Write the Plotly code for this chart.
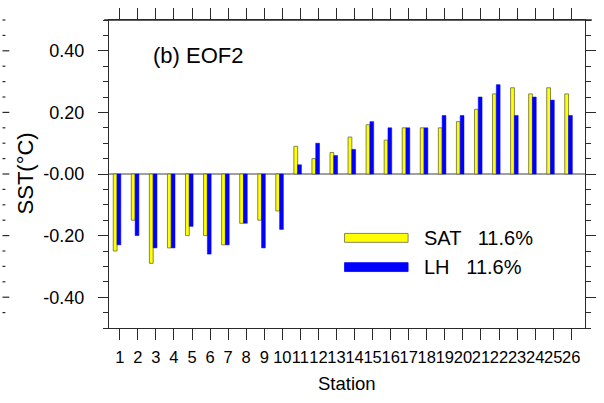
import plotly.graph_objects as go

# ---- data ----
stations = list(range(1, 27))
station_labels = [str(s) for s in stations]
sat = [-0.25, -0.15, -0.29, -0.24, -0.20, -0.20, -0.23, -0.16, -0.15, -0.12,
       0.09, 0.05, 0.07, 0.12, 0.16, 0.11, 0.15, 0.15, 0.15, 0.17,
       0.21, 0.26, 0.28, 0.26, 0.28, 0.26]
lh = [-0.23, -0.20, -0.24, -0.24, -0.17, -0.26, -0.23, -0.16, -0.24, -0.18,
      0.03, 0.10, 0.06, 0.08, 0.17, 0.15, 0.15, 0.15, 0.19, 0.19,
      0.25, 0.29, 0.19, 0.25, 0.24, 0.19]
series_names = ["SAT  11.6%", "LH  11.6%"]
ytick_vals = [-0.4, -0.2, 0.0, 0.2, 0.4]
ytick_text = ["-0.40", "-0.20", "-0.00", "0.20", "0.40"]

# ---- layout constants ----
W, H = 604, 403
ML, MR, MT, MB = 109, 8, 17, 75
PW, PH = W - ML - MR, H - MT - MB
YR = (-0.5, 0.5)
XR = (0.404, 26.76)
FONT = "Liberation Sans, Arial, Helvetica, sans-serif"
AX = "#2a2a2a"


def px(xp):
    return (xp - ML) / PW


def py(yp):
    return (H - MB - yp) / PH


fig = go.Figure()
fig.add_trace(go.Bar(x=stations, y=sat, name=series_names[0], width=0.21, offset=-0.36,
                     marker=dict(color="#ffff00", line=dict(color="#6b6b3a", width=0.8))))
fig.add_trace(go.Bar(x=stations, y=lh, name=series_names[1], width=0.21, offset=-0.15,
                     marker=dict(color="#0000ff", line=dict(color="#0000ff", width=0.5))))

shapes = []
# top border extension
shapes.append(dict(type="line", xref="paper", yref="paper", x0=px(104), x1=px(603),
                   y0=1, y1=1, line=dict(color=AX, width=1.3)))
# neighbouring panel's right-axis ticks at the far left edge
for k in range(-9, 11):
    v = k * 0.05
    major = (k % 4 == 0)
    yp = (v - YR[0]) / (YR[1] - YR[0])
    shapes.append(dict(type="line", xref="paper", yref="paper", x0=px(0), x1=px(7 if major else 3),
                       y0=yp, y1=yp, line=dict(color=AX, width=1.2)))

# legend (manual)
leg_rows = [(237, "#ffff00", "#6b6b3a"), (266.5, "#0000ff", "#0000ff")]
annotations = []
for (yc, fc, lc), name in zip(leg_rows, series_names):
    shapes.append(dict(type="rect", xref="paper", yref="paper", x0=px(350), x1=px(415),
                       y0=py(yc + 4.5), y1=py(yc - 4.5), fillcolor=fc, line=dict(color=lc, width=0.8)))
    annotations.append(dict(xref="paper", yref="paper", x=px(430), y=py(yc), xanchor="left", yanchor="middle",
                            text=name.replace("  ", " \u00a0\u00a0"), showarrow=False, borderpad=0,
                            font=dict(family=FONT, size=20, color="black")))

annotations.append(dict(xref="paper", yref="paper", x=px(153), y=py(53), xanchor="left", yanchor="middle",
                        text="(b) EOF2", showarrow=False, borderpad=0,
                        font=dict(family=FONT, size=22, color="black")))
annotations.append(dict(xref="paper", yref="paper", x=px(352), y=py(384), xanchor="center", yanchor="middle",
                        text="Station", showarrow=False, font=dict(family=FONT, size=18.5, color="black")))
annotations.append(dict(xref="paper", yref="paper", x=px(24), y=py(172), xanchor="center", yanchor="middle",
                        text="SST(°C)", textangle=-90, showarrow=False,
                        font=dict(family=FONT, size=22, color="black")))

fig.update_layout(
    width=W, height=H,
    margin=dict(l=ML, r=MR, t=MT, b=MB, pad=0),
    paper_bgcolor="white", plot_bgcolor="white",
    barmode="overlay", showlegend=False,
    shapes=shapes, annotations=annotations,
    font=dict(family=FONT, color="black"),
)
fig.update_xaxes(range=list(XR), tickmode="array", tickvals=stations, ticktext=station_labels,
                 tickangle=0, ticks="outside", ticklen=11, tickwidth=1.2, tickcolor=AX,
                 showline=True, linecolor=AX, linewidth=1.3, mirror="ticks",
                 showgrid=False, zeroline=False, ticklabelstandoff=3,
                 tickfont=dict(family=FONT, size=16.5, color="black"))
fig.update_yaxes(range=list(YR), tickmode="array", tickvals=ytick_vals, ticktext=ytick_text,
                 ticks="outside", ticklen=10, tickwidth=1.2, tickcolor=AX,
                 minor=dict(tickmode="linear", tick0=0, dtick=0.05, ticks="outside", ticklen=5,
                            tickwidth=1.2, tickcolor=AX, showgrid=False),
                 showline=True, linecolor=AX, linewidth=1.3, mirror="ticks",
                 showgrid=False, zeroline=True, zerolinecolor="#a0a0a0", zerolinewidth=1.8,
                 ticklabelstandoff=10,
                 tickfont=dict(family=FONT, size=18, color="black"))

fig.write_html("out.html")
